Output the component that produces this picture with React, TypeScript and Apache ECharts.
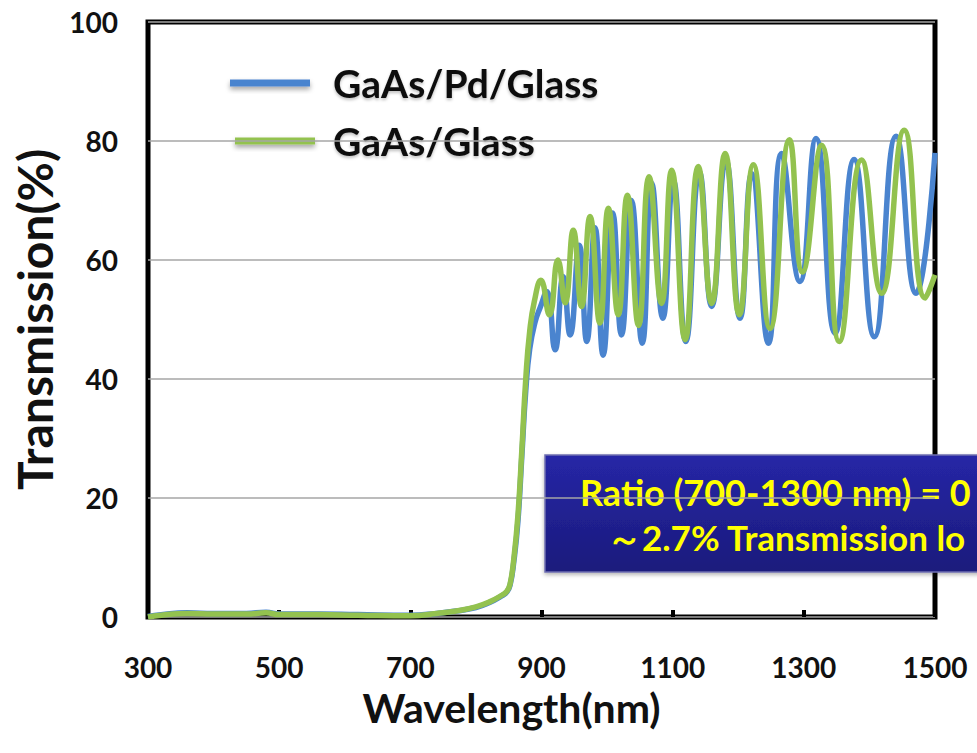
import React, { useEffect, useRef } from "react";
import * as echarts from "echarts";

// ---- data ----
const xTicks = [300, 500, 700, 900, 1100, 1300, 1500];
const yTicks = [0, 20, 40, 60, 80, 100];

const seriesNames = ["GaAs/Pd/Glass", "GaAs/Glass"];

const pdNm = [
  300, 320, 360, 400, 450, 480, 500, 560, 620, 700, 740, 770, 800, 820, 840, 847, 852, 858, 864, 870, 876, 882, 890, 898,
  908, 920.6, 933, 943.6, 957.6, 969, 981.6, 994, 1008.5, 1022, 1037, 1053.6, 1068, 1085, 1101, 1120, 1140.7, 1159.5,
  1181, 1202.7, 1220.5, 1246, 1266, 1294, 1318.6, 1347.6, 1376.6, 1407.5, 1440.6, 1471, 1500,
];
const pdT = [
  0.1, 0.4, 0.7, 0.6, 0.6, 0.8, 0.5, 0.5, 0.4, 0.3, 0.6, 1.0, 1.6, 2.4, 3.6, 4.2, 5.3, 9.5, 16, 27, 38, 45, 49.5, 52,
  54.7, 44.9, 57.2, 47.4, 62.5, 46.3, 65.4, 44, 67.9, 47.4, 70, 46, 72.9, 50.2, 73.4, 46.3, 74.8, 52.2,
  76.8, 50.2, 74.5, 46, 77.9, 56.4, 80.4, 47.7, 76.9, 47.1, 80.8, 54.4, 78,
];

const glassNm = [
  300, 320, 360, 400, 450, 480, 500, 560, 620, 700, 740, 770, 800, 820, 840, 847, 852, 858, 864, 870, 876, 882, 889,
  899, 912, 925, 936, 948.5, 961, 974, 989, 1002, 1017, 1031, 1048, 1064, 1083, 1098.5, 1119, 1139, 1159.5, 1180,
  1201.7, 1223, 1248.5, 1278, 1298, 1327, 1354, 1388, 1418.6, 1453, 1485, 1500,
];
const glassT = [
  0, 0.3, 0.6, 0.5, 0.5, 0.7, 0.4, 0.4, 0.3, 0.2, 0.6, 1.0, 1.7, 2.5, 3.7, 4.3, 5.5, 10, 17, 28, 40, 48, 53,
  56.6, 50.8, 60, 52.8, 65, 52.2, 67.3, 49.4, 68.7, 50.8, 70.9, 49, 74, 52.7, 75.1, 46.6, 75.7, 52.7, 77.9,
  50.8, 76, 48.5, 80.2, 58, 79.3, 46.3, 76.8, 54.4, 81.8, 53.6, 57.5,
];

const annotationLines = ["Ratio (700-1300 nm) = 0", "～2.7% Transmission lo"];

const FONT = "Lato, 'Noto Sans', sans-serif";
const BLUE = "#4a84cf";
const GREEN = "#93c24f";

export default function App() {
  const ref = useRef<HTMLDivElement>(null);

  useEffect(() => {
    if (!ref.current) return;
    const chart = echarts.init(ref.current, undefined, { renderer: "svg" });

    const legendSwatch = (x: number, y: number, color: string) => ({
      type: "rect",
      shape: { x, y: y - 3.5, width: 80, height: 7 },
      style: {
        fill: color,
        shadowBlur: 5,
        shadowColor: "rgba(0,0,0,0.35)",
        shadowOffsetY: 3,
      },
    });

    const legendText = (y: number, text: string) => ({
      type: "text",
      x: 333,
      y,
      style: {
        text,
        font: `bold 39px ${FONT}`,
        fill: "#111",
        verticalAlign: "middle",
        textShadowBlur: 3,
        textShadowColor: "rgba(0,0,0,0.25)",
        textShadowOffsetY: 2,
      },
    });

    const option: any = {
      animation: false,
      backgroundColor: "#ffffff",
      grid: {
        left: 148,
        right: 42,
        top: 22,
        bottom: 136,
        show: true,
        borderColor: "#000",
        borderWidth: 5,
        backgroundColor: "transparent",
      },
      xAxis: {
        type: "value",
        min: xTicks[0],
        max: xTicks[xTicks.length - 1],
        interval: 200,
        name: "Wavelength(nm)",
        nameLocation: "middle",
        nameGap: 70,
        nameTextStyle: {
          fontFamily: FONT,
          fontWeight: "bold",
          fontSize: 41,
          color: "#111",
          padding: [0, 60, 0, 0],
        },
        axisLine: { show: false },
        axisTick: { show: true, inside: true, length: 7, lineStyle: { color: "#000", width: 4 } },
        splitLine: { show: false },
        axisLabel: {
          fontFamily: FONT,
          fontWeight: "bold",
          fontSize: 28,
          color: "#111",
          margin: 36,
          formatter: (v: number) => String(v),
        },
      },
      yAxis: {
        type: "value",
        min: yTicks[0],
        max: yTicks[yTicks.length - 1],
        interval: 20,
        name: "Transmission(%)",
        nameLocation: "middle",
        nameRotate: 90,
        nameGap: 86,
        nameTextStyle: {
          fontFamily: FONT,
          fontWeight: "bold",
          fontSize: 48,
          color: "#111",
        },
        axisLine: { show: false },
        axisTick: { show: false },
        splitLine: { show: true, lineStyle: { color: "#a6a6a6", width: 1.5 } },
        axisLabel: {
          fontFamily: FONT,
          fontWeight: "bold",
          fontSize: 28,
          color: "#111",
          margin: 30,
          formatter: (v: number) => String(v),
        },
      },
      series: [
        {
          name: seriesNames[0],
          type: "line",
          data: pdNm.map((x, i) => [x, pdT[i]]),
          showSymbol: false,
          smooth: 0.5,
          lineStyle: { color: BLUE, width: 5.5 },
          itemStyle: { color: BLUE },
          z: 2,
        },
        {
          name: seriesNames[1],
          type: "line",
          data: glassNm.map((x, i) => [x, glassT[i]]),
          showSymbol: false,
          smooth: 0.5,
          lineStyle: { color: GREEN, width: 5.5 },
          itemStyle: { color: GREEN },
          z: 3,
        },
      ],
      graphic: [
        {
          type: "group",
          z: 50,
          children: [
            { type: "rect", shape: { x: 205, y: 52, width: 392, height: 114 }, style: { fill: "#ffffff" } },
            legendSwatch(230, 83, BLUE),
            legendText(83, seriesNames[0]),
            legendSwatch(235, 141, GREEN),
            legendText(141, seriesNames[1]),
          ],
        },
        {
          type: "group",
          z: 100,
          children: [
            {
              type: "rect",
              shape: { x: 545, y: 455, width: 450, height: 117 },
              style: {
                fill: {
                  type: "linear",
                  x: 0,
                  y: 0,
                  x2: 0,
                  y2: 1,
                  colorStops: [
                    { offset: 0, color: "#2626a6" },
                    { offset: 1, color: "#1b1b7c" },
                  ],
                },
                stroke: "#6f6fb0",
                lineWidth: 1.5,
                shadowBlur: 4,
                shadowColor: "rgba(0,0,0,0.3)",
                shadowOffsetY: 2,
              },
            },
            {
              type: "text",
              x: 580,
              y: 492,
              style: {
                text: annotationLines[0],
                font: `bold 36px ${FONT}`,
                fill: "#ffff00",
                verticalAlign: "middle",
              },
            },
            {
              type: "text",
              x: 607,
              y: 537,
              style: {
                text: annotationLines[1],
                font: `bold 35px ${FONT}`,
                fill: "#ffff00",
                verticalAlign: "middle",
              },
            },
          ],
        },
      ],
    };

    chart.setOption(option);
    return () => chart.dispose();
  }, []);

  return (
    <div
      ref={ref}
      style={{ position: "fixed", left: 0, top: 0, width: 977, height: 753, background: "#fff" }}
    />
  );
}
